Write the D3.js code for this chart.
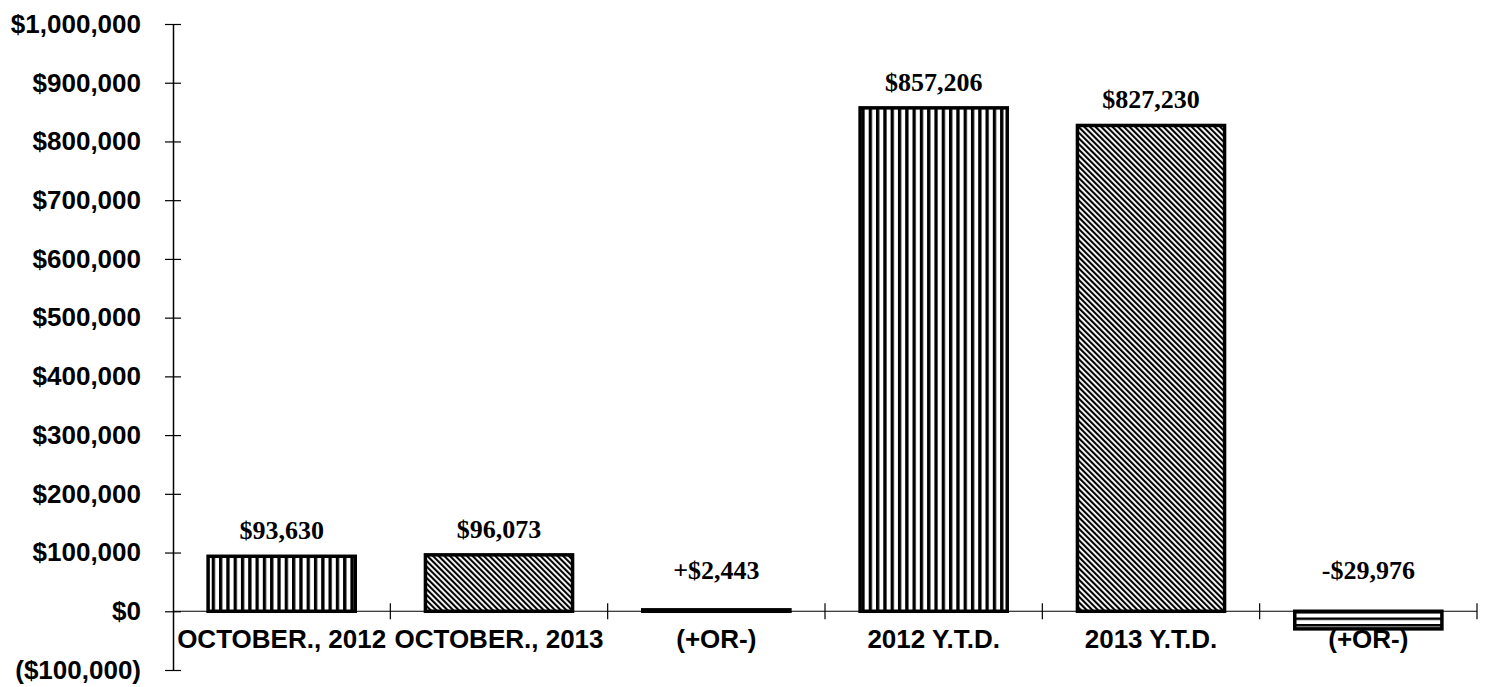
<!DOCTYPE html>
<html>
<head>
<meta charset="utf-8">
<script src="https://cdn.jsdelivr.net/npm/d3@7"></script>
<style>
  html, body { margin: 0; padding: 0; background: #fff; }
</style>
</head>
<body>
<svg id="chart"></svg>
<script>
// chart data
const categories = ['OCTOBER., 2012', 'OCTOBER., 2013', '(+OR-)', '2012 Y.T.D.', '2013 Y.T.D.', '(+OR-)'];
const values = [93630, 96073, 2443, 857206, 827230, -29976];
const valueLabels = ['$93,630', '$96,073', '+$2,443', '$857,206', '$827,230', '-$29,976'];
const patterns = ['vert', 'diag', 'solid', 'vert', 'diag', 'horiz'];
const yTicks = [-100000, 0, 100000, 200000, 300000, 400000, 500000, 600000, 700000, 800000, 900000, 1000000];

const width = 1486;
const height = 687;
const margin = { top: 24, right: 9, bottom: 17, left: 173 };

const svg = d3.select('#chart')
  .attr('width', width)
  .attr('height', height);

// fill patterns
const defs = svg.append('defs');

const vert = defs.append('pattern')
  .attr('id', 'vert')
  .attr('patternUnits', 'userSpaceOnUse')
  .attr('width', 7.3).attr('height', 10);
vert.append('rect').attr('width', 7.3).attr('height', 10).attr('fill', '#fff');
vert.append('rect').attr('x', 0).attr('width', 3.3).attr('height', 10).attr('fill', '#000');

const diag = defs.append('pattern')
  .attr('id', 'diag')
  .attr('patternUnits', 'userSpaceOnUse')
  .attr('width', 4).attr('height', 4)
  .attr('patternTransform', 'rotate(-45)');
diag.append('rect').attr('width', 4).attr('height', 4).attr('fill', '#fff');
diag.append('rect').attr('x', 0).attr('width', 2.1).attr('height', 4).attr('fill', '#000');

const horiz = defs.append('pattern')
  .attr('id', 'horiz')
  .attr('patternUnits', 'userSpaceOnUse')
  .attr('width', 10).attr('height', 6.5);
horiz.append('rect').attr('width', 10).attr('height', 6.5).attr('fill', '#fff');
horiz.append('rect').attr('y', 0).attr('width', 10).attr('height', 2.5).attr('fill', '#000');

// scales
const x = d3.scaleBand()
  .domain(d3.range(categories.length))
  .range([margin.left, width - margin.right])
  .paddingInner(0.323)
  .paddingOuter(0.1615);

const y = d3.scaleLinear()
  .domain([-100000, 1000000])
  .range([height - margin.bottom, margin.top]);

const fmt = d => d < 0 ? '($' + d3.format(',')(-d) + ')' : '$' + d3.format(',')(d);

// y axis
const yAxis = svg.append('g')
  .attr('transform', `translate(${margin.left},0)`)
  .call(d3.axisLeft(y).tickValues(yTicks).tickFormat(fmt).tickSizeOuter(0).tickSize(0).tickPadding(32));
yAxis.select('.domain').attr('stroke', '#000').attr('stroke-width', 1.5);
yAxis.selectAll('.tick line').remove();
yAxis.selectAll('.tick').append('line')
  .attr('x1', -8).attr('x2', 8)
  .attr('stroke', '#000').attr('stroke-width', 1.2);
yAxis.selectAll('.tick text')
  .attr('font-family', 'Liberation Sans, Arial, sans-serif')
  .attr('font-weight', 'bold')
  .attr('font-size', 26)
  .attr('fill', '#000');

// x axis line at zero
const zeroY = y(0);
svg.append('line')
  .attr('x1', margin.left).attr('x2', width - margin.right)
  .attr('y1', zeroY).attr('y2', zeroY)
  .attr('stroke', '#000').attr('stroke-width', 1.2);

// x tick marks at band boundaries
const step = x.step();
const boundaries = d3.range(1, categories.length + 1).map(i => margin.left + i * step);
svg.selectAll('.xtick')
  .data(boundaries)
  .enter().append('line')
  .attr('x1', d => d).attr('x2', d => d)
  .attr('y1', zeroY - 8).attr('y2', zeroY + 8)
  .attr('stroke', '#000').attr('stroke-width', 1.2);

// bars
const bars = categories.map((c, i) => ({ i, c, v: values[i], label: valueLabels[i], p: patterns[i] }));

svg.selectAll('.bar')
  .data(bars)
  .enter().append('rect')
  .attr('x', d => x(d.i))
  .attr('width', x.bandwidth())
  .attr('y', d => y(Math.max(0, d.v)))
  .attr('height', d => Math.abs(y(d.v) - y(0)))
  .attr('fill', d => d.p === 'solid' ? '#000' : `url(#${d.p})`)
  .attr('stroke', '#000')
  .attr('stroke-width', 3.5);

// value labels
svg.selectAll('.vlabel')
  .data(bars)
  .enter().append('text')
  .attr('x', d => x(d.i) + x.bandwidth() / 2)
  .attr('y', d => d.v > 50000 ? y(d.v) - 17 : y(0) - 32)
  .attr('text-anchor', 'middle')
  .attr('font-family', 'Liberation Serif, Times New Roman, serif')
  .attr('font-weight', 'bold')
  .attr('font-size', 26)
  .attr('fill', '#000')
  .text(d => d.label);

// category labels
svg.selectAll('.clabel')
  .data(bars)
  .enter().append('text')
  .attr('x', d => x(d.i) + x.bandwidth() / 2)
  .attr('y', zeroY + 37)
  .attr('text-anchor', 'middle')
  .attr('font-family', 'Liberation Sans, Arial, sans-serif')
  .attr('font-weight', 'bold')
  .attr('font-size', 26)
  .attr('fill', '#000')
  .text(d => d.c);
</script>
</body>
</html>
